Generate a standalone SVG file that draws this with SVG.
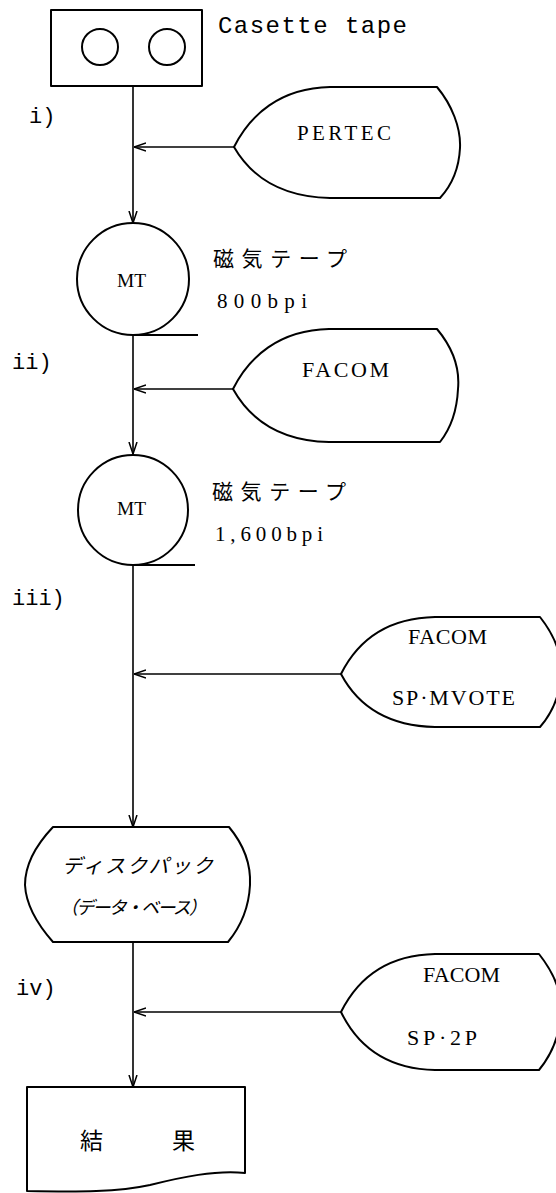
<svg xmlns="http://www.w3.org/2000/svg" width="556" height="1193" viewBox="0 0 556 1193">
<defs>
<style>
.shape{fill:none;stroke:#000;stroke-width:2;stroke-linejoin:round}
.line{fill:none;stroke:#000;stroke-width:1.6}
.mono{font-family:"Liberation Mono","DejaVu Sans Mono",monospace;fill:#000}
.serif{font-family:"Liberation Serif","Noto Sans CJK JP",serif;fill:#000}
.jp{font-family:"Noto Sans CJK JP","Liberation Serif",serif;fill:#000}
</style>
<marker id="arr" viewBox="0 0 12 10" refX="12" refY="5" markerWidth="12" markerHeight="10" markerUnits="userSpaceOnUse" orient="auto">
<path d="M0,1 L12,5 L0,9" fill="none" stroke="#000" stroke-width="1.5"/>
</marker>
</defs>
<rect width="556" height="1193" fill="#fff"/>

<g id="cassette">
<rect class="shape" x="51" y="10" width="151" height="76"/>
<circle class="shape" cx="100" cy="47" r="18"/>
<circle class="shape" cx="167" cy="47" r="18"/>
<text class="mono" x="218" y="33" font-size="24" textLength="189" lengthAdjust="spacing">Casette tape</text>
</g>

<g id="pertec">
<path class="shape" d="M234,147 C250,115 280,88 330,87 L437,87 C452,105 461,128 460,148 C459,168 452,185 440,198 L330,198 C282,197 252,178 234,147 Z"/>
<text class="serif" x="297" y="140" font-size="21" textLength="94" lengthAdjust="spacing">PERTEC</text>
</g>

<g id="mt1">
<circle class="shape" cx="133" cy="279" r="56"/>
<line class="shape" x1="133" y1="335" x2="198" y2="335"/>
<text class="serif" x="117" y="287" font-size="18" textLength="29" lengthAdjust="spacingAndGlyphs">MT</text>
<text class="jp" x="213" y="266" font-size="21" textLength="134" lengthAdjust="spacing">磁気テープ</text>
<text class="serif" x="217" y="308" font-size="21" textLength="90" lengthAdjust="spacing">800bpi</text>
</g>

<g id="facom1">
<path class="shape" d="M233,389 C249,357 279,330 329,329 L437,329 C452,347 460,368 458,389 C457,410 451,428 440,442 L329,442 C281,441 251,421 233,389 Z"/>
<text class="serif" x="302" y="377" font-size="22" textLength="87" lengthAdjust="spacing">FACOM</text>
</g>

<g id="mt2">
<circle class="shape" cx="133" cy="510" r="55"/>
<line class="shape" x1="133" y1="565" x2="195" y2="565"/>
<text class="serif" x="117" y="515" font-size="18" textLength="29" lengthAdjust="spacingAndGlyphs">MT</text>
<text class="jp" x="212" y="499" font-size="21" textLength="134" lengthAdjust="spacing">磁気テープ</text>
<text class="serif" x="215" y="541" font-size="21" textLength="108" lengthAdjust="spacing">1,600bpi</text>
</g>

<g id="facom2">
<path class="shape" d="M341,674 C358,640 388,618 435,617 L540,617 C555,636 562,655 561,674 C560,694 553,712 540,727 L435,727 C388,726 358,706 341,674 Z"/>
<text class="serif" x="408" y="644" font-size="22" textLength="79" lengthAdjust="spacing">FACOM</text>
<text class="serif" x="392" y="705" font-size="22" textLength="123" lengthAdjust="spacing">SP·MVOTE</text>
</g>

<g id="diskpack">
<path class="shape" d="M53,827 L229,827 C244,845 251,865 250,885 C249,905 242,925 228,942 L53,942 C38,925 26,905 25,885 C25,865 36,845 53,827 Z"/>
<text class="jp" x="62" y="873" font-size="20" textLength="151" lengthAdjust="spacing" font-style="italic">ディスクパック</text>
<text class="jp" x="60" y="914" font-size="18" textLength="147" lengthAdjust="spacing" font-style="italic">（データ・ベース）</text>
</g>

<g id="facom3">
<path class="shape" d="M341,1012 C358,978 388,955 435,954 L539,954 C554,973 562,992 561,1012 C560,1032 553,1053 539,1070 L435,1070 C388,1069 358,1047 341,1012 Z"/>
<text class="serif" x="423" y="982" font-size="22" textLength="77" lengthAdjust="spacing">FACOM</text>
<text class="serif" x="407" y="1045" font-size="22" textLength="70" lengthAdjust="spacing">SP·2P</text>
</g>

<g id="result">
<path class="shape" d="M27,1087 L245,1087 L245,1173 C215,1170 182,1177 150,1185 C118,1192 80,1192 27,1191 Z"/>
<text class="jp" x="80 172" y="1149" font-size="23">結果</text>
</g>

<g id="labels">
<text class="mono" x="29" y="123" font-size="22">i)</text>
<text class="mono" x="12" y="369" font-size="22">ii)</text>
<text class="mono" x="12" y="605" font-size="22">iii)</text>
<text class="mono" x="16" y="995" font-size="22">iv)</text>
</g>

<g id="connectors">
<line class="line" x1="133" y1="86" x2="133" y2="223" marker-end="url(#arr)"/>
<line class="line" x1="133" y1="335" x2="133" y2="454" marker-end="url(#arr)"/>
<line class="line" x1="133" y1="565" x2="133" y2="827" marker-end="url(#arr)"/>
<line class="line" x1="133" y1="942" x2="133" y2="1087" marker-end="url(#arr)"/>
<line class="line" x1="234" y1="147" x2="134" y2="147" marker-end="url(#arr)"/>
<line class="line" x1="233" y1="389" x2="134" y2="389" marker-end="url(#arr)"/>
<line class="line" x1="341" y1="674" x2="134" y2="674" marker-end="url(#arr)"/>
<line class="line" x1="341" y1="1012" x2="134" y2="1012" marker-end="url(#arr)"/>
</g>
</svg>
